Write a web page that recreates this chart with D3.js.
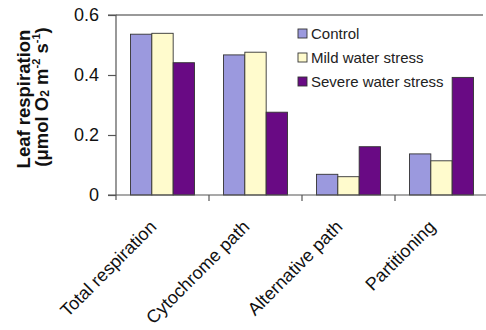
<!DOCTYPE html>
<html><head><meta charset="utf-8">
<script src="https://cdn.jsdelivr.net/npm/d3@7"></script>
<style>
html,body{margin:0;padding:0;background:#fff;}
svg{display:block;font-family:"Liberation Sans",Arial,sans-serif;}
</style></head>
<body><svg id="c" width="486" height="330"></svg>
<script>
const categories = ["Total respiration","Cytochrome path","Alternative path","Partitioning"];
const seriesNames = ["Control","Mild water stress","Severe water stress"];
const control = [0.536,0.467,0.069,0.137];
const mild = [0.539,0.476,0.061,0.114];
const severe = [0.441,0.276,0.161,0.392];
const yTicks = [0,0.2,0.4,0.6];
const yTickLabels = ["0","0.2","0.4","0.6"];
const colors = ["#9b99de","#fffbcd","#690a84"];

const svg = d3.select("#c");
const pL = 116, pR = 488, pT = 15, pB = 195;
const x = d3.scaleBand().domain(categories).range([pL,pR]).padding(0);
const y = d3.scaleLinear().domain([0,0.6]).range([pB,pT]);
const xi = d3.scaleBand().domain(seriesNames).range([14.5, x.bandwidth()-14.5]).padding(0);
const values = [control, mild, severe];

// top line (max gridline)
svg.append("line").attr("x1",pL).attr("x2",483).attr("y1",y(0.6)).attr("y2",y(0.6))
  .attr("stroke","#777").attr("stroke-width",1.3);

// bars
categories.forEach((c,ci)=>{
  seriesNames.forEach((s,si)=>{
    svg.append("rect")
      .attr("x", x(c)+xi(s))
      .attr("y", y(values[si][ci]))
      .attr("width", xi.bandwidth())
      .attr("height", y(0)-y(values[si][ci]))
      .attr("fill", colors[si])
      .attr("stroke","#333").attr("stroke-width",0.9);
  });
});

// y axis
const yAxis = d3.axisLeft(y).tickValues(yTicks).tickFormat((d,i)=>yTickLabels[i]).tickSize(8).tickPadding(8);
const gy = svg.append("g").attr("transform",`translate(${pL},0)`).call(yAxis);
gy.select(".domain").attr("stroke","#555").attr("stroke-width",1.2).attr("d",`M-8,${pT}H0V${pB+5}`);
gy.selectAll(".tick line").attr("stroke","#555").attr("stroke-width",1.2);
gy.selectAll(".tick text").attr("font-size",18).attr("fill","#111").attr("font-family","Liberation Sans, Arial, sans-serif").attr("x",-17);

// x axis
const boundaries = categories.slice(1).map(c=>x(c));
svg.append("line").attr("x1",pL-8).attr("x2",486).attr("y1",pB).attr("y2",pB).attr("stroke","#555").attr("stroke-width",1.2);
svg.selectAll(".xt").data(boundaries).enter().append("line")
  .attr("x1",d=>d).attr("x2",d=>d).attr("y1",pB).attr("y2",pB+6)
  .attr("stroke","#555").attr("stroke-width",1.2);
svg.selectAll(".xl").data(categories).enter().append("text")
  .attr("transform",d=>`translate(${x(d)+x.bandwidth()/2-5},${pB+33}) rotate(-45)`)
  .attr("text-anchor","end").attr("font-size",18).attr("fill","#111").text(d=>d);

// y title
svg.append("text").attr("transform","translate(30,99) rotate(-90)")
  .attr("text-anchor","middle").attr("font-size",18.5).attr("font-weight","bold").attr("fill","#111")
  .text("Leaf respiration");
const t2 = svg.append("text").attr("transform","translate(48,97) rotate(-90)")
  .attr("text-anchor","middle").attr("font-size",18.5).attr("font-weight","bold").attr("fill","#111");
t2.append("tspan").text("(μmol O");
t2.append("tspan").attr("font-size",12).attr("dy",1).text("2");
t2.append("tspan").attr("dy",-1).text(" m");
t2.append("tspan").attr("font-size",11).attr("dy",-8).text("-2");
t2.append("tspan").attr("dy",8).text(" s");
t2.append("tspan").attr("font-size",11).attr("dy",-8).text("-1");
t2.append("tspan").attr("dy",8).text(")");

// legend
const lg = svg.append("g");
seriesNames.forEach((s,i)=>{
  lg.append("rect").attr("x",298).attr("y",29+i*24).attr("width",9).attr("height",9)
    .attr("fill",colors[i]).attr("stroke","#333").attr("stroke-width",0.9);
  lg.append("text").attr("x",311).attr("y",39+i*24).attr("font-size",15).attr("fill","#222").text(s);
});
</script></body></html>
